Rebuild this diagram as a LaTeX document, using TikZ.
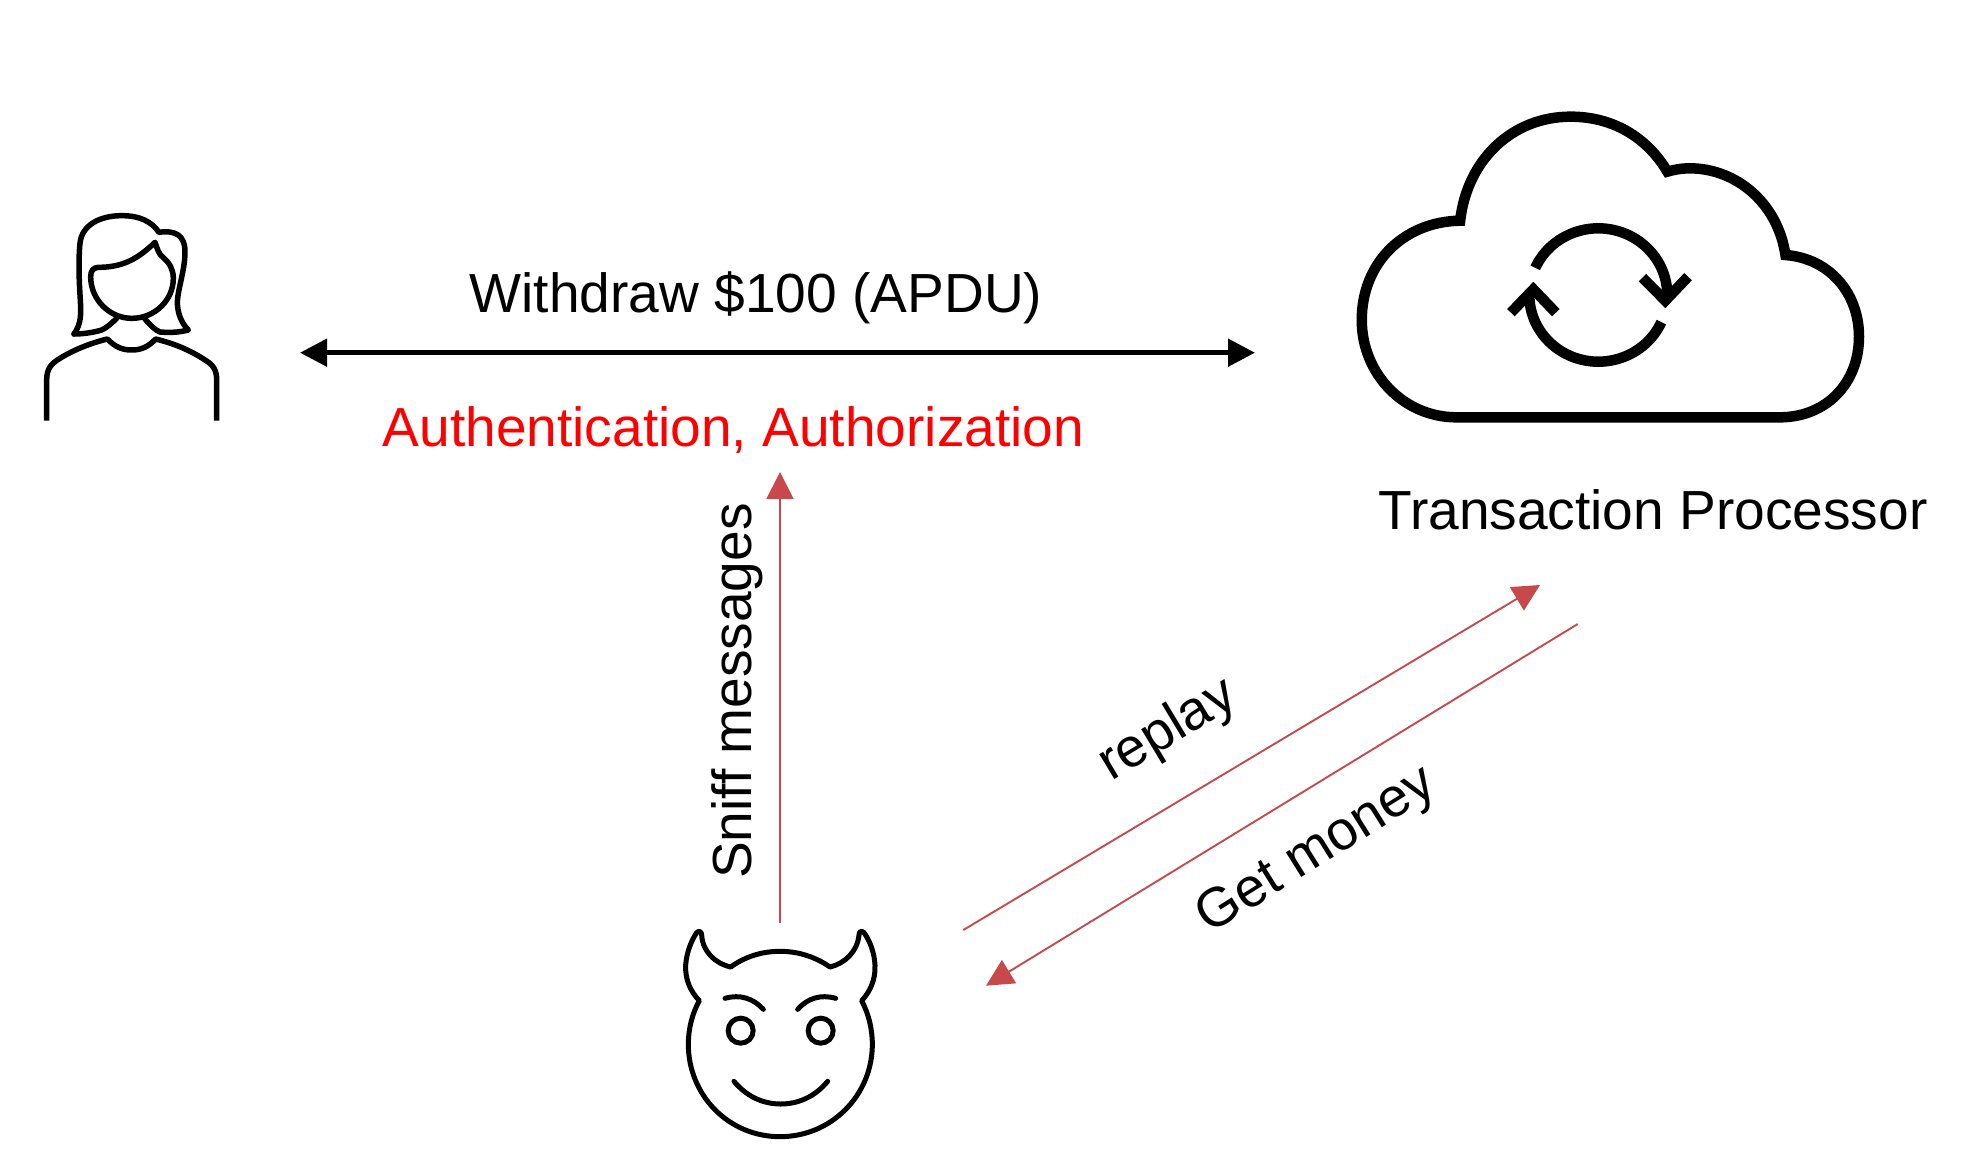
\documentclass[tikz,border=0pt]{standalone}
\usepackage{fontspec}
\setmainfont{Liberation Sans}
\usetikzlibrary{arrows.meta}
\definecolor{redline}{HTML}{C8494C}
\tikzset{
  lbl/.style={inner sep=0pt,font=\fontsize{55.1}{60}\selectfont,anchor=center},
  blackarrow/.style={line width=5pt,{Triangle[length=27pt,width=27pt]}-{Triangle[length=27pt,width=27pt]}},
  redarrow/.style={draw=redline,line width=1.9pt,-{Triangle[length=27pt,width=27pt,color=redline]}},
  personline/.style={line width=5.5pt,line join=round,line cap=round},
  cloudline/.style={line width=10.5pt,miter limit=10},
  devilline/.style={line width=5pt,line join=round,line cap=round},
}
\begin{document}
\begin{tikzpicture}[x=1pt,y=-1pt]
\useasboundingbox (0,0) rectangle (1961,1164);

% person
\begin{scope}[xshift=0pt,yshift=-180pt,x=0.33333pt,y=-0.33333pt]
  \draw[personline,line cap=butt] (140,722) -- (140,600) .. controls (140,565) and (155,550) .. (180,535)
     .. controls (220,510) and (270,490) .. (322,477)
     .. controls (345,500) and (365,510) .. (395,510)
     .. controls (425,510) and (445,500) .. (467,477)
     .. controls (520,490) and (570,510) .. (615,540)
     .. controls (640,555) and (650,570) .. (650,600) -- (650,722);
  \draw[personline] (222,462) .. controls (245,430) and (243,400) .. (241,360)
     .. controls (237,300) and (235,240) .. (240,190)
     .. controls (245,135) and (300,107) .. (365,107)
     .. controls (420,107) and (455,125) .. (477,157)
     .. controls (525,150) and (555,165) .. (555,215)
     .. controls (555,270) and (535,320) .. (532,365)
     .. controls (532,400) and (545,430) .. (565,450)
     .. controls (535,458) and (505,458) .. (480,456)
     .. controls (465,450) and (450,435) .. (435,417);
  \draw[personline] (222,462) .. controls (255,462) and (285,456) .. (305,450)
     .. controls (320,443) and (335,430) .. (350,415);
  \draw[personline] (295,262) .. controls (370,262) and (415,235) .. (465,187)
     .. controls (472,205) and (475,222) .. (490,233)
     .. controls (510,250) and (520,270) .. (520,295)
     .. controls (520,360) and (465,415) .. (395,415)
     .. controls (330,415) and (272,360) .. (272,290)
     .. controls (272,272) and (280,263) .. (295,262) -- cycle;
\end{scope}

% cloud
\begin{scope}[xshift=1339.3pt,yshift=-90pt,x=0.3453pt,y=-0.33333pt]
  \draw[cloudline] (340,982) -- (1275,982)
     .. controls (1410,982) and (1505,880) .. (1505,740)
     .. controls (1505,610) and (1420,505) .. (1292,495)
     .. controls (1270,340) and (1150,235) .. (1015,235)
     .. controls (990,235) and (970,239) .. (950,245)
     .. controls (890,140) and (790,80) .. (670,80)
     .. controls (500,80) and (370,210) .. (350,392)
     .. controls (185,395) and (65,520) .. (65,690)
     .. controls (65,850) and (185,982) .. (340,982) -- cycle;
  \begin{scope}[line width=10.5pt]
    \draw (750,615) ++(156:69pt and 66.67pt) arc[start angle=156,end angle=-2,x radius=69pt,y radius=66.67pt];
    \draw (750,615) ++(-24:69pt and 66.67pt) arc[start angle=-24,end angle=-182,x radius=69pt,y radius=66.67pt];
    \draw (878,563) -- (944,632) -- (1010,560);
    \draw (497,668) -- (562,598) -- (627,668);
  \end{scope}
\end{scope}

% devil
\begin{scope}[xshift=660pt,yshift=-910pt,x=0.33333pt,y=-0.33333pt]
  \draw[devilline] (118,272) .. controls (92,245) and (75,210) .. (77,165)
     .. controls (80,125) and (95,90) .. (110,68)
     .. controls (117,60) and (125,65) .. (125,75)
     .. controls (128,125) and (165,160) .. (212,171)
     .. controls (255,140) and (305,124) .. (360,124)
     .. controls (415,124) and (465,140) .. (510,171)
     .. controls (555,160) and (592,125) .. (597,75)
     .. controls (597,65) and (605,60) .. (612,68)
     .. controls (628,90) and (643,125) .. (645,165)
     .. controls (647,210) and (630,245) .. (605,272)
     .. controls (625,310) and (637,355) .. (637,403)
     .. controls (637,555) and (515,680) .. (360,680)
     .. controls (205,680) and (85,555) .. (85,403)
     .. controls (85,355) and (97,310) .. (118,272) -- cycle;
  \draw[devilline] (195,265) .. controls (240,252) and (280,265) .. (310,298);
  \draw[devilline] (527,265) .. controls (482,252) and (442,265) .. (413,298);
  \draw[devilline] (242,362) circle[radius=12.5pt];
  \draw[devilline] (482,362) circle[radius=12.5pt];
  \draw[devilline] (222,514) .. controls (260,560) and (310,582) .. (362,582)
     .. controls (415,582) and (465,560) .. (503,514);
\end{scope}

% free ends
\coordinate (wl) at (300,352.7);
\coordinate (wr) at (1255,352.7);
\coordinate (sniffs) at (780,923);
\coordinate (sniffe) at (780,472);
\coordinate (reps) at (963.3,930);
\coordinate (repe) at (1540,585);
\coordinate (gets) at (1577.7,624);
\coordinate (gete) at (986,985.7);

\draw[blackarrow] (wl) -- (wr);
\draw[redarrow] (sniffs) -- (sniffe);
\draw[redarrow] (reps) -- (repe);
\draw[redarrow] (gets) -- (gete);

\node[lbl] (withdraw) at (756,298) {Withdraw \$100 (APDU)};
\node[lbl,text=red] (auth) at (733.5,430.5) {Authentication, Authorization};
\node[lbl] (tp) at (1653,510) {Transaction Processor};
\node[lbl,rotate=90] (sniff) at (737,691) {Sniff messages};
\node[lbl,rotate=31] (replay) at (1168,731) {replay};
\node[lbl,rotate=32] (money) at (1317,852) {Get money};
\end{tikzpicture}
\end{document}
